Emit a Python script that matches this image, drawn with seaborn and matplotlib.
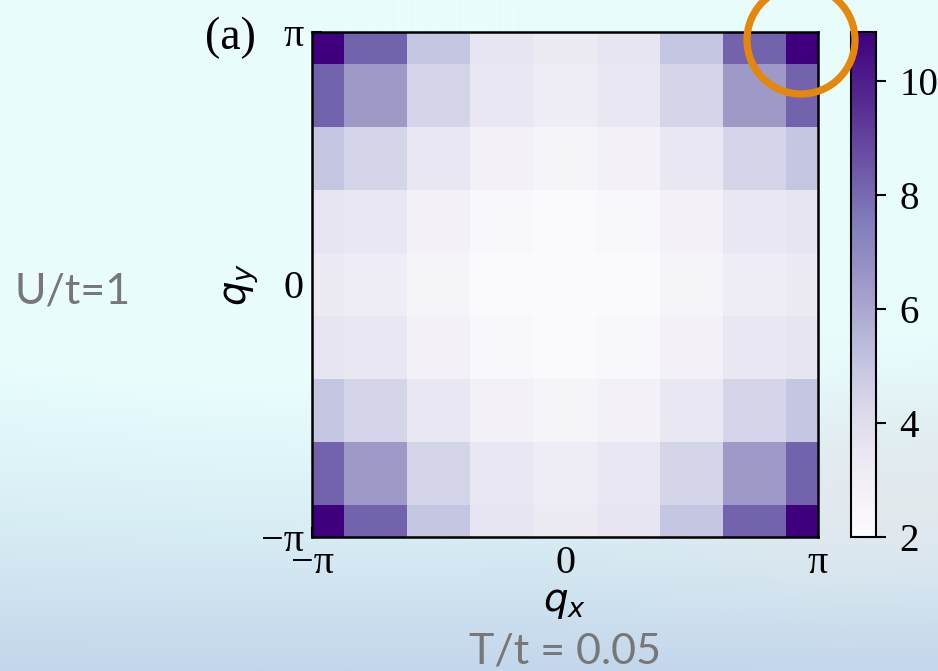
import numpy as np
import pandas as pd
import matplotlib
matplotlib.use("Agg")
import matplotlib.pyplot as plt
from matplotlib.patches import Circle
import seaborn as sns

# Structure factor S(q) on the 8x8 momentum grid, q = -pi ... pi (both ends shown)
# rows run from q_y = pi (top) to q_y = -pi (bottom); columns from q_x = -pi to pi
s_q = [
    [10.86, 8.18, 5.00, 3.59, 3.27, 3.59, 5.00, 8.18, 10.86],
    [8.18, 6.43, 4.39, 3.43, 3.16, 3.43, 4.39, 6.43, 8.18],
    [5.00, 4.39, 3.43, 2.77, 2.60, 2.77, 3.43, 4.39, 5.00],
    [3.59, 3.43, 2.77, 2.34, 2.17, 2.34, 2.77, 3.43, 3.59],
    [3.27, 3.16, 2.60, 2.17, 2.08, 2.17, 2.60, 3.16, 3.27],
    [3.59, 3.43, 2.77, 2.34, 2.17, 2.34, 2.77, 3.43, 3.59],
    [5.00, 4.39, 3.43, 2.77, 2.60, 2.77, 3.43, 4.39, 5.00],
    [8.18, 6.43, 4.39, 3.43, 3.16, 3.43, 4.39, 6.43, 8.18],
    [10.86, 8.18, 5.00, 3.59, 3.27, 3.59, 5.00, 8.18, 10.86],
]
qx_labels = ["−π", "0", "π"]
qy_labels = ["π", "0", "−π"]
cbar_ticks = [2, 4, 6, 8, 10]
color_min = 2

W, H = 938, 671
sns.set_theme(style="white")
plt.rcParams["font.family"] = ["Liberation Serif", "DejaVu Serif"]
plt.rcParams["mathtext.fontset"] = "dejavusans"
plt.rcParams["text.color"] = "black"
plt.rcParams["axes.labelcolor"] = "black"
plt.rcParams["xtick.color"] = "black"
plt.rcParams["ytick.color"] = "black"

fig = plt.figure(figsize=(W / 100, H / 100), dpi=100)

# soft background wash
bg = fig.add_axes([0, 0, 1, 1], zorder=-10)
yy, xx = np.mgrid[0:1:H * 1j, 0:1:W * 1j]
top = np.array([233, 253, 253]) / 255
mid = np.array([216, 238, 245]) / 255
bot = np.array([196, 214, 235]) / 255
edge = 0.50 + 0.10 * np.sin(2.2 * xx + 0.4) - 0.05 * xx
t = np.clip((yy - edge) / (1.0 - edge), 0, 1)
img = np.where(t[..., None] < 0.5,
               top + (mid - top) * (2 * t[..., None]),
               mid + (bot - mid) * (2 * t[..., None] - 1))
grey = np.array([228, 232, 236]) / 255
gw = np.clip((xx - 0.55) / 0.35, 0, 1) * np.exp(-((yy - 0.74) / 0.14) ** 2) * 0.8
img = img * (1 - gw[..., None]) + grey * gw[..., None]
bg.imshow(img, aspect="auto", extent=[0, 1, 0, 1], origin="upper")
bg.set_axis_off()

ax = fig.add_axes([312 / W, 1 - 537 / H, 506 / W, 505 / H])
cax = fig.add_axes([851 / W, 1 - 537 / H, 25 / W, 505 / H])

df = pd.DataFrame(s_q)
sns.heatmap(df, ax=ax, cbar_ax=cax, cmap="Purples", vmin=color_min,
            xticklabels=False, yticklabels=False)

ax.set_xlim(0.5, 8.5)
ax.set_ylim(8.5, 0.5)
ax.set_xticks([0.5, 4.5, 8.5])
ax.set_xticklabels(qx_labels)
ax.set_yticks([0.5, 4.5, 8.5])
ax.set_yticklabels(qy_labels, rotation=0)
ax.tick_params(direction="in", length=7, width=1.5, color="black",
               labelcolor="black", labelsize=29, pad=6, bottom=True, left=True)
for sp in ax.spines.values():
    sp.set_visible(True)
    sp.set_linewidth(1.8)
    sp.set_color("black")
ax.set_xlabel("$q_x$", fontsize=28, labelpad=1, color="black")
ax.set_ylabel("$q_y$", fontsize=28, labelpad=0, color="black")

cax.set_yticks(cbar_ticks)
cax.tick_params(direction="out", length=7, width=1.5, labelsize=28, pad=10,
                right=True, left=False, color="black", labelcolor="black")
cb = ax.collections[0].colorbar
cb.outline.set_visible(True)
cb.outline.set_linewidth(1.5)
cb.outline.set_edgecolor("black")

fig.text(205 / W, 1 - 49 / H, "(a)", fontsize=33, ha="left", va="baseline")
fig.text(15 / W, 1 - 303 / H, "U/t=1", fontsize=31, color="#777777",
         family=["Lato", "DejaVu Sans"],
         ha="left", va="baseline")
fig.text(565 / W, 1 - 663 / H, "T/t = 0.05", fontsize=31, color="#777777",
         family=["Lato", "DejaVu Sans"],
         ha="center", va="baseline")

circle = Circle((801, H - 40), 54, transform=None, fill=False,
                edgecolor="#e5870a", linewidth=5.2, zorder=20)
fig.patches.append(circle)

fig.savefig("out.png", dpi=100)
